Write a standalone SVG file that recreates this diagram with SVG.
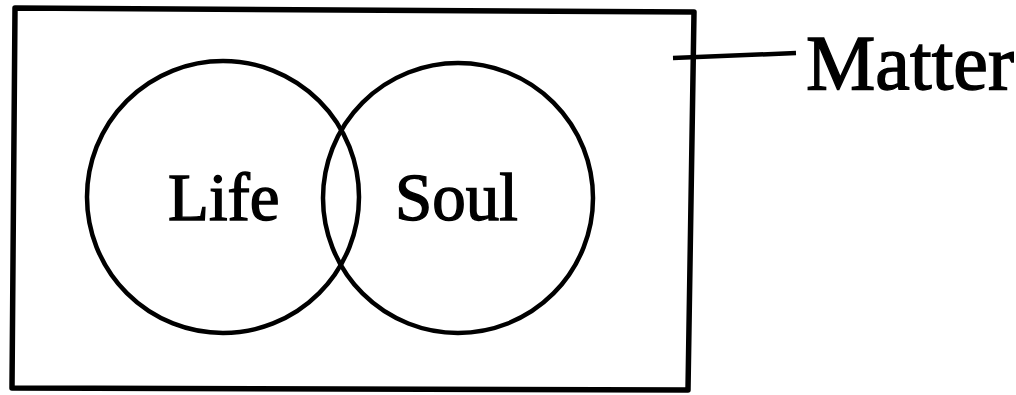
<svg xmlns="http://www.w3.org/2000/svg" width="1016" height="395" viewBox="0 0 1016 395">
<style>
.ln{fill:none;stroke:#000;stroke-linejoin:round}
.t{font-family:"Liberation Serif","Times New Roman",serif;fill:#000;stroke:#000;stroke-width:1.4}
</style>
<rect width="1016" height="395" fill="#fff"/>
<g id="matter">
<polygon class="ln" stroke-width="5.5" points="15,8 694,12 688,390 12,388"/>
<text class="t" x="806" y="89" font-size="78">Matter</text>
</g>
<g id="life">
<circle class="ln" stroke-width="4.5" cx="223" cy="197" r="136"/>
<text class="t" x="168" y="220" font-size="67">Life</text>
</g>
<g id="soul">
<circle class="ln" stroke-width="4.5" cx="458" cy="198" r="135"/>
<text class="t" x="395" y="220" font-size="67">Soul</text>
</g>
<g id="connectors">
<line class="ln" stroke-width="4.5" x1="673" y1="58" x2="796" y2="53"/>
</g>
</svg>
